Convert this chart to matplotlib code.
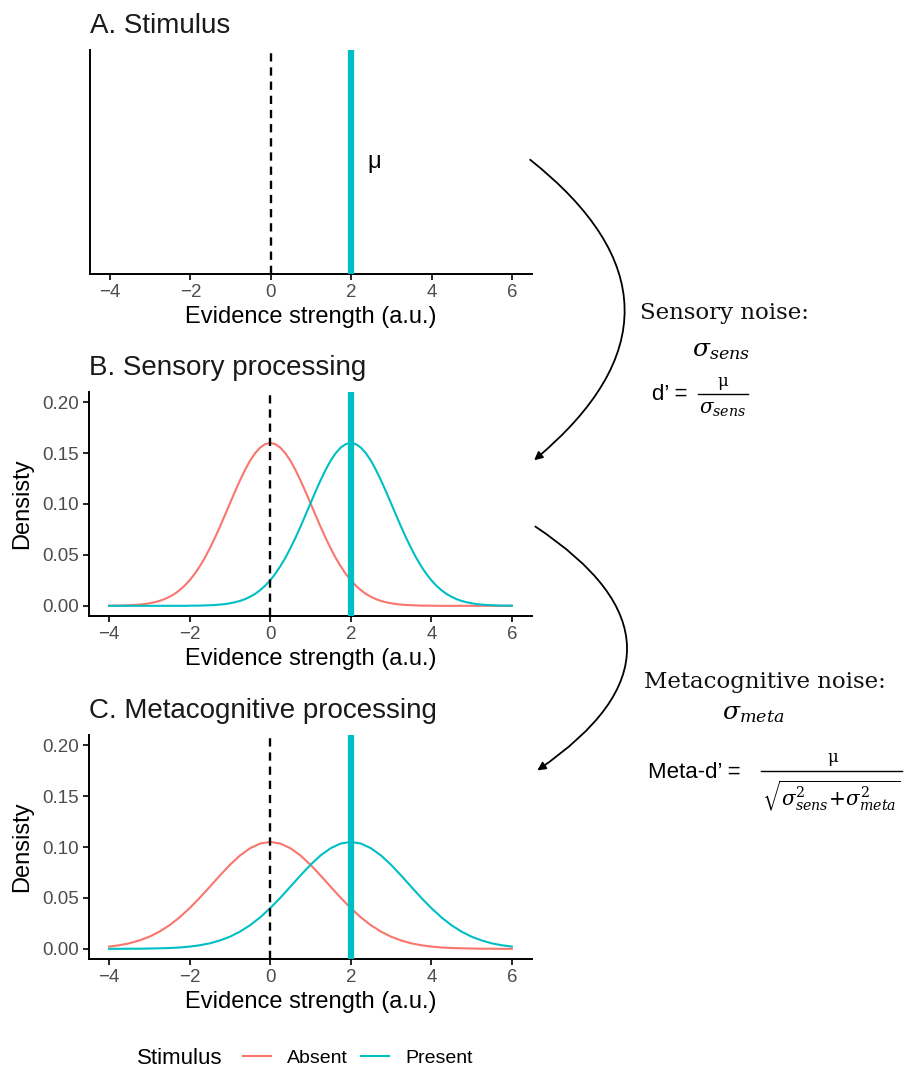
import matplotlib.pyplot as plt
from matplotlib.lines import Line2D
from matplotlib.patches import FancyArrowPatch

plt.rcParams['font.family'] = ['Liberation Sans', 'DejaVu Sans']
plt.rcParams['mathtext.fontset'] = 'dejavuserif'

# evidence strength grid (a.u.) for panel B, read every 0.125
evidence_sens = [-4.0, -3.875, -3.75, -3.625, -3.5, -3.375, -3.25, -3.125, -3.0, -2.875,
                 -2.75, -2.625, -2.5, -2.375, -2.25, -2.125, -2.0, -1.875, -1.75, -1.625,
                 -1.5, -1.375, -1.25, -1.125, -1.0, -0.875, -0.75, -0.625, -0.5, -0.375,
                 -0.25, -0.125, 0.0, 0.125, 0.25, 0.375, 0.5, 0.625, 0.75, 0.875, 1.0,
                 1.125, 1.25, 1.375, 1.5, 1.625, 1.75, 1.875, 2.0, 2.125, 2.25, 2.375,
                 2.5, 2.625, 2.75, 2.875, 3.0, 3.125, 3.25, 3.375, 3.5, 3.625, 3.75,
                 3.875, 4.0, 4.125, 4.25, 4.375, 4.5, 4.625, 4.75, 4.875, 5.0, 5.125,
                 5.25, 5.375, 5.5, 5.625, 5.75, 5.875, 6.0]

# B. sensory processing
absent_sens = [0.0001, 0.0002, 0.0002, 0.0004, 0.0006, 0.0008, 0.0012, 0.0017, 0.0025,
               0.0035, 0.0048, 0.0066, 0.0089, 0.0117, 0.0154, 0.0198, 0.0251, 0.0314,
               0.0388, 0.0471, 0.0565, 0.0667, 0.0776, 0.0891, 0.1007, 0.1122, 0.1233,
               0.1335, 0.1426, 0.1499, 0.1554, 0.1588, 0.1600, 0.1588, 0.1554, 0.1499,
               0.1426, 0.1335, 0.1233, 0.1122, 0.1007, 0.0891, 0.0776, 0.0667, 0.0565,
               0.0471, 0.0388, 0.0314, 0.0251, 0.0198, 0.0154, 0.0117, 0.0089, 0.0066,
               0.0048, 0.0035, 0.0025, 0.0017, 0.0012, 0.0008, 0.0006, 0.0004, 0.0002,
               0.0002, 0.0001, 0.0, 0.0, 0.0, 0.0, 0.0, 0.0, 0.0, 0.0, 0.0, 0.0, 0.0,
               0.0, 0.0, 0.0, 0.0, 0.0]
present_sens = [0.0, 0.0, 0.0, 0.0, 0.0, 0.0, 0.0, 0.0, 0.0, 0.0, 0.0, 0.0, 0.0, 0.0, 0.0,
                0.0, 0.0001, 0.0002, 0.0002, 0.0004, 0.0006, 0.0008, 0.0012, 0.0017,
                0.0025, 0.0035, 0.0048, 0.0066, 0.0089, 0.0117, 0.0154, 0.0198, 0.0251,
                0.0314, 0.0388, 0.0471, 0.0565, 0.0667, 0.0776, 0.0891, 0.1007, 0.1122,
                0.1233, 0.1335, 0.1426, 0.1499, 0.1554, 0.1588, 0.1600, 0.1588, 0.1554,
                0.1499, 0.1426, 0.1335, 0.1233, 0.1122, 0.1007, 0.0891, 0.0776, 0.0667,
                0.0565, 0.0471, 0.0388, 0.0314, 0.0251, 0.0198, 0.0154, 0.0117, 0.0089,
                0.0066, 0.0048, 0.0035, 0.0025, 0.0017, 0.0012, 0.0008, 0.0006, 0.0004,
                0.0002, 0.0002, 0.0001]

# evidence strength grid (a.u.) for panel C, read every 0.25
evidence_meta = [-4.0, -3.75, -3.5, -3.25, -3.0, -2.75, -2.5, -2.25, -2.0, -1.75, -1.5,
                 -1.25, -1.0, -0.75, -0.5, -0.25, 0.0, 0.25, 0.5, 0.75, 1.0, 1.25, 1.5,
                 1.75, 2.0, 2.25, 2.5, 2.75, 3.0, 3.25, 3.5, 3.75, 4.0, 4.25, 4.5, 4.75,
                 5.0, 5.25, 5.5, 5.75, 6.0]

# C. metacognitive processing
absent_meta = [0.0022, 0.0035, 0.0054, 0.0082, 0.0119, 0.0169, 0.0232, 0.0309, 0.0400,
               0.0501, 0.0610, 0.0720, 0.0825, 0.0917, 0.0988, 0.1034, 0.1050, 0.1034,
               0.0988, 0.0917, 0.0825, 0.0720, 0.0610, 0.0501, 0.0400, 0.0309, 0.0232,
               0.0169, 0.0119, 0.0082, 0.0054, 0.0035, 0.0022, 0.0013, 0.0008, 0.0005,
               0.0003, 0.0001, 0.0001, 0.0, 0.0]
present_meta = [0.0, 0.0, 0.0001, 0.0001, 0.0003, 0.0005, 0.0008, 0.0013, 0.0022, 0.0035,
                0.0054, 0.0082, 0.0119, 0.0169, 0.0232, 0.0309, 0.0400, 0.0501, 0.0610,
                0.0720, 0.0825, 0.0917, 0.0988, 0.1034, 0.1050, 0.1034, 0.0988, 0.0917,
                0.0825, 0.0720, 0.0610, 0.0501, 0.0400, 0.0309, 0.0232, 0.0169, 0.0119,
                0.0082, 0.0054, 0.0035, 0.0022]

criterion = 0
mu = 2
x_ticks = [-4, -2, 0, 2, 4, 6]
y_ticks = [0.00, 0.05, 0.10, 0.15, 0.20]
y_ticklabels = ["0.00", "0.05", "0.10", "0.15", "0.20"]
titles = ["A. Stimulus", "B. Sensory processing", "C. Metacognitive processing"]
legend_labels = ["Absent", "Present"]

RED = '#F8766D'
CYAN = '#00BFC4'
W, H = 905, 1070


def fx(px):
    return px / W


def fy(py):
    return 1 - py / H


def style(ax, title):
    for s in ['top', 'right']:
        ax.spines[s].set_visible(False)
    for s in ['left', 'bottom']:
        ax.spines[s].set_linewidth(1.4)
    ax.set_xlim(-4.5, 6.5)
    ax.set_xticks(x_ticks)
    ax.tick_params(length=4, width=1.2, colors='black', labelcolor='#4D4D4D',
                   labelsize=13.5, pad=3)
    ax.set_xlabel('Evidence strength (a.u.)', fontsize=17, labelpad=4)
    ax.set_title(title, loc='left', fontsize=20, pad=12, color='#1A1A1A')


def vlines(ax):
    ax.axvline(criterion, color='black', lw=1.7, ls=(0, (3.5, 2.5)), zorder=3)
    ax.axvline(mu, color=CYAN, lw=4.5, zorder=4)


fig = plt.figure(figsize=(W / 100, H / 100), dpi=100)

# A. Stimulus
axA = fig.add_axes([fx(90), fy(274), fx(532) - fx(90), (274 - 50) / H])
style(axA, titles[0])
axA.set_ylim(0, 1)
axA.set_yticks([])
vlines(axA)
axA.text(2.4, 0.5, 'μ', fontsize=17, va='center', ha='left')

# B / C density panels
panels = [(392, evidence_sens, absent_sens, present_sens),
          (735, evidence_meta, absent_meta, present_meta)]
for i, (top, xs, absent, present) in enumerate(panels, start=1):
    ax = fig.add_axes([fx(89), fy(top + 224), fx(532) - fx(89), 224 / H])
    style(ax, titles[i])
    ax.plot(xs, absent, color=RED, lw=1.5)
    ax.plot(xs, present, color=CYAN, lw=1.5)
    vlines(ax)
    ax.set_ylim(-0.01, 0.21)
    ax.set_yticks(y_ticks)
    ax.set_yticklabels(y_ticklabels)
    ax.set_ylabel('Densisty', fontsize=17, labelpad=7)

# legend
fig.text(fx(137), fy(1058), 'Stimulus', fontsize=16, va='center', ha='left')
handles = [Line2D([], [], color=RED, lw=1.5), Line2D([], [], color=CYAN, lw=1.5)]
fig.legend(handles, legend_labels, ncol=2, loc='center left',
           bbox_to_anchor=(fx(243), fy(1058)), frameon=False, fontsize=14,
           handlelength=1.45, handletextpad=0.8, columnspacing=0.7,
           borderpad=0, borderaxespad=0)

# curved arrows
arr1 = FancyArrowPatch((fx(528), fy(158)), (fx(532), fy(462)), transform=fig.transFigure,
                       connectionstyle='arc3,rad=-0.62', arrowstyle='-|>',
                       mutation_scale=12, lw=1.3, color='black')
arr2 = FancyArrowPatch((fx(533), fy(525)), (fx(535), fy(772)), transform=fig.transFigure,
                       connectionstyle='arc3,rad=-0.75', arrowstyle='-|>',
                       mutation_scale=12, lw=1.3, color='black')
fig.patches.extend([arr1, arr2])

# sensory noise annotation
serif = 'DejaVu Serif'
fig.text(fx(725), fy(313), 'Sensory noise:', family=serif, fontsize=16.5,
         ha='center', va='center', color='#111111')
fig.text(fx(721), fy(350), r'$\sigma_{sens}$', fontsize=18, ha='center', va='center')
fig.text(fx(652), fy(395), 'd’ =', fontsize=16, ha='left', va='center')
fig.text(fx(723), fy(381), 'μ', family=serif, fontsize=12, ha='center', va='center')
fig.add_artist(Line2D([fx(698), fx(748)], [fy(394), fy(394)], color='black', lw=1,
                      transform=fig.transFigure))
fig.text(fx(723), fy(410), r'$\sigma_{sens}$', fontsize=14.5, ha='center', va='center')

# metacognitive noise annotation
fig.text(fx(765), fy(682), 'Metacognitive noise:', family=serif, fontsize=16.5,
         ha='center', va='center', color='#111111')
fig.text(fx(753), fy(713), r'$\sigma_{meta}$', fontsize=18, ha='center', va='center')
fig.text(fx(648), fy(772), 'Meta-d’ =', fontsize=16, ha='left', va='center')
fig.text(fx(833), fy(757), 'μ', family=serif, fontsize=12, ha='center', va='center')
fig.add_artist(Line2D([fx(761), fx(902)], [fy(771), fy(771)], color='black', lw=1,
                      transform=fig.transFigure))
fig.text(fx(831), fy(796), r'$\sqrt{\sigma^2_{sens}\!+\!\sigma^2_{meta}}$', fontsize=14.5,
         ha='center', va='center')

fig.savefig('out.png', dpi=100)
